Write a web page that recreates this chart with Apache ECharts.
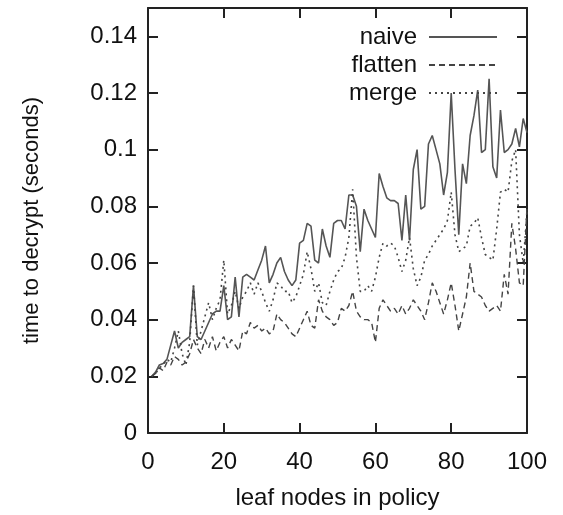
<!DOCTYPE html>
<html>
<head>
<meta charset="utf-8">
<script src="https://cdn.jsdelivr.net/npm/echarts@6/dist/echarts.min.js"></script>
<style>
	html, body { margin: 0; padding: 0; background: #fff; }
	#container { width: 563px; height: 515px; }
</style>
</head>
<body>
<div id="container"></div>
<script>
	//叶子节点数
	var leafNodes = [];
	for(var n = 1; n <= 100; n++) {
		leafNodes.push(n);
	}

	//naive
	var naive = [
		0.020, 0.0215, 0.024, 0.0245, 0.026, 0.031, 0.036, 0.030, 0.032, 0.033,
		0.034, 0.052, 0.034, 0.033, 0.036, 0.039, 0.042, 0.043, 0.043, 0.052,
		0.040, 0.041, 0.055, 0.041, 0.055, 0.056, 0.055, 0.054, 0.0575, 0.061,
		0.066, 0.053, 0.056, 0.060, 0.062, 0.057, 0.054, 0.052, 0.054, 0.067,
		0.068, 0.074, 0.073, 0.061, 0.060, 0.072, 0.066, 0.062, 0.074, 0.075,
		0.075, 0.072, 0.084, 0.084, 0.080, 0.064, 0.079, 0.075, 0.072, 0.069,
		0.0916, 0.087, 0.083, 0.082, 0.082, 0.081, 0.068, 0.084, 0.068, 0.093,
		0.100, 0.079, 0.080, 0.102, 0.105, 0.100, 0.095, 0.084, 0.092, 0.120,
		0.093, 0.070, 0.095, 0.088, 0.105, 0.112, 0.121, 0.099, 0.100, 0.125,
		0.094, 0.090, 0.114, 0.099, 0.100, 0.102, 0.1075, 0.101, 0.111, 0.106
	];

	//flatten
	var flatten = [
		0.020, 0.021, 0.023, 0.022, 0.025, 0.024, 0.027, 0.026, 0.024, 0.025,
		0.028, 0.033, 0.030, 0.028, 0.033, 0.030, 0.034, 0.029, 0.032, 0.034,
		0.030, 0.033, 0.031, 0.029, 0.036, 0.035, 0.039, 0.037, 0.038, 0.036,
		0.037, 0.035, 0.036, 0.042, 0.040, 0.039, 0.037, 0.035, 0.034, 0.037,
		0.040, 0.043, 0.038, 0.037, 0.047, 0.043, 0.041, 0.040, 0.038, 0.039,
		0.044, 0.043, 0.045, 0.050, 0.043, 0.041, 0.040, 0.040, 0.039, 0.032,
		0.044, 0.047, 0.045, 0.043, 0.044, 0.042, 0.045, 0.042, 0.044, 0.047,
		0.045, 0.043, 0.040, 0.046, 0.053, 0.050, 0.046, 0.042, 0.047, 0.053,
		0.045, 0.036, 0.042, 0.048, 0.060, 0.050, 0.049, 0.048, 0.045, 0.043,
		0.044, 0.045, 0.043, 0.056, 0.049, 0.074, 0.065, 0.053, 0.052, 0.080
	];

	//merge
	var merge = [
		0.020, 0.021, 0.023, 0.024, 0.026, 0.025, 0.030, 0.036, 0.028, 0.024,
		0.032, 0.052, 0.031, 0.036, 0.041, 0.046, 0.040, 0.044, 0.047, 0.061,
		0.042, 0.045, 0.050, 0.044, 0.048, 0.050, 0.053, 0.049, 0.053, 0.050,
		0.046, 0.043, 0.047, 0.053, 0.052, 0.050, 0.050, 0.046, 0.048, 0.052,
		0.056, 0.064, 0.058, 0.050, 0.053, 0.046, 0.045, 0.050, 0.054, 0.057,
		0.058, 0.062, 0.069, 0.086, 0.062, 0.050, 0.050, 0.052, 0.050, 0.055,
		0.062, 0.067, 0.066, 0.067, 0.066, 0.062, 0.057, 0.061, 0.069, 0.058,
		0.052, 0.055, 0.061, 0.063, 0.066, 0.068, 0.070, 0.072, 0.075, 0.085,
		0.070, 0.064, 0.065, 0.066, 0.073, 0.074, 0.076, 0.069, 0.063, 0.062,
		0.061, 0.072, 0.085, 0.086, 0.085, 0.096, 0.100, 0.070, 0.060, 0.078
	];

	var seriesNames = ['naive', 'flatten', 'merge'];

	function pairs(arr) {
		var out = [];
		for(var i = 0; i < arr.length; i++) {
			out.push([leafNodes[i], arr[i]]);
		}
		return out;
	}

	;
	(function() {
		var dom = document.getElementById("container");
		var myChart = echarts.init(dom);
		var option = null;

		var fontName = 'Liberation Sans';
		var axisColor = '#222';
		var frameLine = {
			onZero: false,
			lineStyle: {
				color: axisColor,
				width: 2
			}
		};
		var frameTick = {
			inside: true,
			length: 10,
			lineStyle: {
				color: axisColor,
				width: 2
			}
		};

		option = {
			animation: false,
			backgroundColor: '#fff',
			textStyle: {
				fontFamily: fontName
			},
			legend: {
				right: 60,
				top: 20,
				orient: 'vertical',
				align: 'right',
				itemWidth: 68,
				itemHeight: 14,
				itemGap: 4,
				data: seriesNames,
				itemStyle: {
					opacity: 0
				},
				textStyle: {
					color: '#111',
					fontSize: 24,
					fontFamily: fontName,
					padding: [0, 7, 0, 0]
				}
			},
			grid: {
				left: 148,
				right: 36,
				top: 8,
				bottom: 82
			},
			xAxis: [{
				type: 'value',
				min: 0,
				max: 100,
				interval: 20,
				name: 'leaf nodes in policy',
				nameLocation: 'middle',
				nameGap: 53,
				nameTextStyle: {
					color: '#111',
					fontSize: 24,
					fontFamily: fontName
				},
				axisLine: frameLine,
				axisTick: frameTick,
				axisLabel: {
					color: '#111',
					fontSize: 24,
					margin: 17,
					fontFamily: fontName
				},
				splitLine: {
					show: false
				}
			}, {
				type: 'value',
				position: 'top',
				min: 0,
				max: 100,
				interval: 20,
				axisLine: frameLine,
				axisTick: frameTick,
				axisLabel: {
					show: false
				},
				splitLine: {
					show: false
				}
			}],
			yAxis: [{
				type: 'value',
				min: 0,
				max: 0.15,
				interval: 0.02,
				name: 'time to decrypt (seconds)',
				nameLocation: 'middle',
				nameGap: 105,
				nameTextStyle: {
					color: '#111',
					fontSize: 22,
					fontFamily: fontName
				},
				axisLine: frameLine,
				axisTick: frameTick,
				axisLabel: {
					color: '#111',
					fontSize: 24,
					margin: 11,
					fontFamily: fontName,
					formatter: function(v) {
						if(v > 0.145) {
							return '';
						}
						return String(Math.round(v * 100) / 100);
					}
				},
				splitLine: {
					show: false
				}
			}, {
				type: 'value',
				position: 'right',
				min: 0,
				max: 0.15,
				interval: 0.02,
				axisLine: frameLine,
				axisTick: frameTick,
				axisLabel: {
					show: false
				},
				splitLine: {
					show: false
				}
			}],
			series: [{
				name: 'naive',
				type: 'line',
				symbol: 'none',
				itemStyle: {
					color: '#555'
				},
				lineStyle: {
					color: '#555',
					width: 1.6,
					type: 'solid'
				},
				data: pairs(naive)
			}, {
				name: 'flatten',
				type: 'line',
				symbol: 'none',
				itemStyle: {
					color: '#444'
				},
				lineStyle: {
					color: '#444',
					width: 1.4,
					type: [6, 4]
				},
				data: pairs(flatten)
			}, {
				name: 'merge',
				type: 'line',
				symbol: 'none',
				itemStyle: {
					color: '#444'
				},
				lineStyle: {
					color: '#444',
					width: 1.6,
					type: [2, 4]
				},
				data: pairs(merge)
			}]
		};

		if(option && typeof option === "object") {
			myChart.setOption(option, true);
		}
	})()
</script>
</body>
</html>
